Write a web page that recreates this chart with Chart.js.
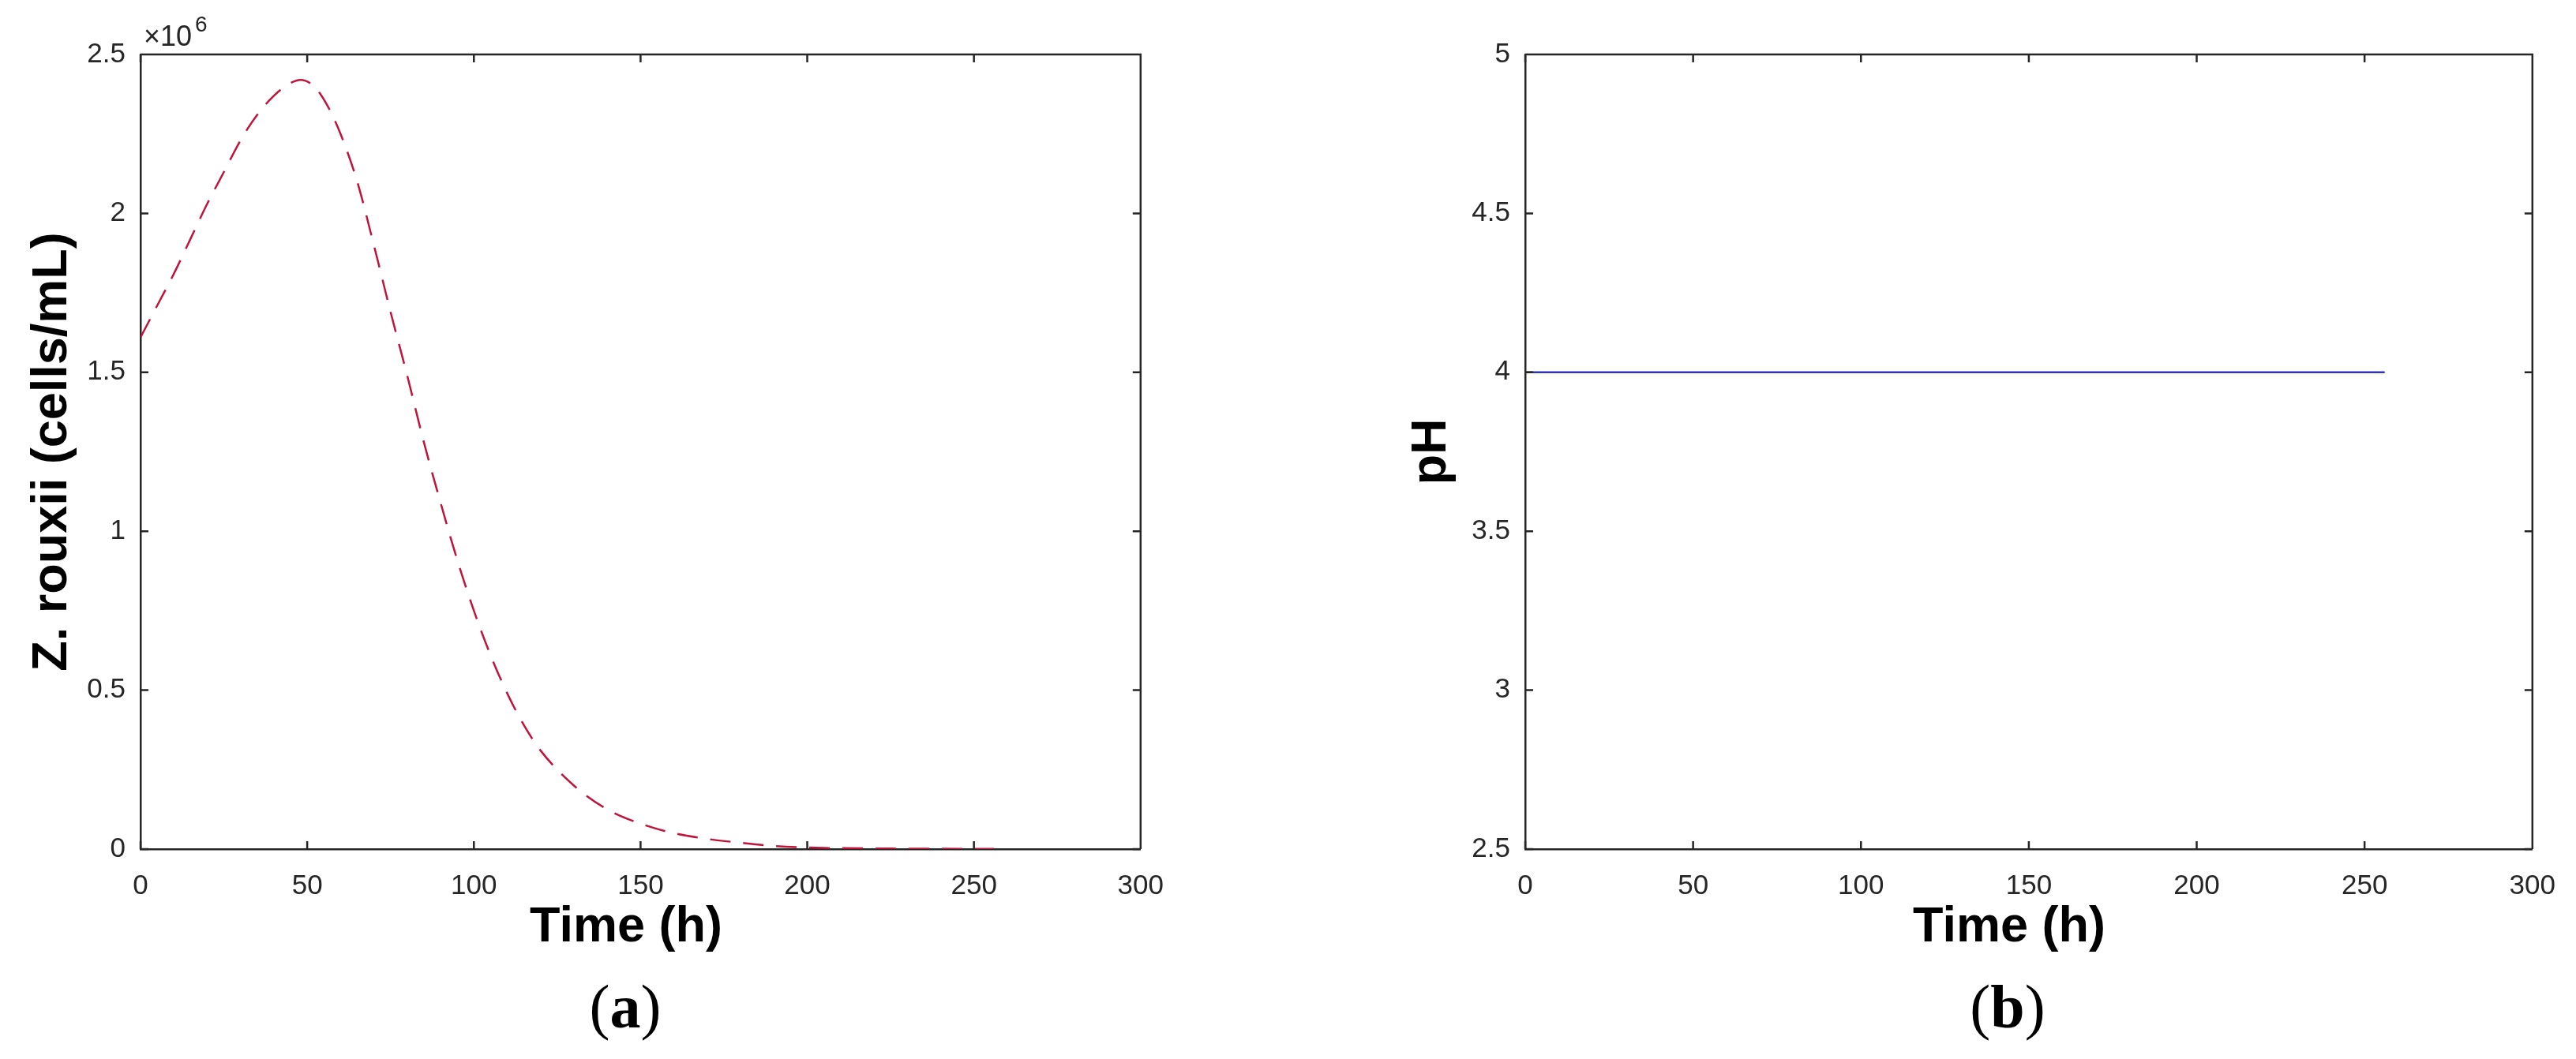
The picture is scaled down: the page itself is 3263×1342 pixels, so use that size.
<!DOCTYPE html>
<html lang="en">
<head>
    <meta charset="UTF-8">
    <title>Z. rouxii and pH vs time</title>
    <script src="https://cdn.jsdelivr.net/npm/chart.js"></script>
    <style>
        body {
            margin: 0;
            background: #ffffff;
            width: 3263px;
            height: 1342px;
            position: relative;
            overflow: hidden;
            font-family: 'Liberation Sans', Arial, sans-serif;
        }
        canvas { position: absolute; top: 0; }
        #chartA { left: 0; }
        #chartB { left: 1750px; }
        .xlabel {
            position: absolute;
            top: 1140px;
            width: 400px;
            text-align: center;
            font-weight: bold;
            font-size: 63px;
            line-height: 63px;
            color: #000;
        }
        .panel {
            position: absolute;
            top: 1237px;
            width: 200px;
            text-align: center;
            font-family: 'Liberation Serif', 'Times New Roman', serif;
            font-size: 78px;
            line-height: 78px;
            color: #000;
        }
    </style>
</head>
<body>
    <canvas id="chartA" width="1500" height="1215"></canvas>
    <canvas id="chartB" width="1513" height="1215"></canvas>
    <div class="xlabel" style="left:593px">Time (h)</div>
    <div class="xlabel" style="left:2345px">Time (h)</div>
    <div class="panel" style="left:692px">(<b>a</b>)</div>
    <div class="panel" style="left:2443px">(<b>b</b>)</div>
    <script>
        // (a) Z. rouxii population, cells/mL
        const timeA = [0, 5, 10, 15, 20, 25, 30, 35, 40, 45, 48, 52, 56, 60, 65, 70, 75, 80, 85, 90,
                       95, 100, 105, 110, 115, 120, 130, 140, 150, 160, 170, 180, 190, 200, 220, 240, 256];
        const zRouxii = [1.61e6, 1.71e6, 1.81e6, 1.92e6, 2.03e6, 2.13e6, 2.23e6, 2.31e6, 2.37e6, 2.41e6,
                         2.42e6, 2.40e6, 2.34e6, 2.25e6, 2.10e6, 1.90e6, 1.69e6, 1.49e6, 1.28e6, 1.09e6,
                         0.91e6, 0.75e6, 0.61e6, 0.49e6, 0.39e6, 0.31e6, 0.20e6, 0.125e6, 0.08e6, 0.05e6,
                         0.032e6, 0.02e6, 0.01e6, 0.005e6, 0.002e6, 0.001e6, 0.0005e6];

        // (b) pH
        const timeB = [0, 256];
        const pH = [4, 4];

        // axis ranges and tick steps
        const xRange = [0, 300];
        const xStep = 50;
        const yRangeA = [0, 2.5e6];
        const yStepA = 0.5e6;
        const yRangeB = [2.5, 5];
        const yStepB = 0.5;

        const axisColor = '#262626';
        const tickFont = { family: "'Liberation Sans', Arial, sans-serif", size: 35 };
        const titleFont = { family: "'Liberation Sans', Arial, sans-serif", size: 63, weight: 'bold' };

        // matlab style box: top/right edges and inward ticks on all sides
        const boxTicks = {
            id: 'boxTicks',
            afterDatasetsDraw(chart) {
                const { ctx, chartArea: a, scales } = chart;
                const len = 10;
                ctx.save();
                ctx.strokeStyle = axisColor;
                ctx.lineWidth = 2.5;
                ctx.beginPath();
                ctx.moveTo(a.left, a.top);
                ctx.lineTo(a.right, a.top);
                ctx.lineTo(a.right, a.bottom);
                scales.x.ticks.forEach(t => {
                    const px = scales.x.getPixelForValue(t.value);
                    ctx.moveTo(px, a.bottom);
                    ctx.lineTo(px, a.bottom - len);
                    ctx.moveTo(px, a.top);
                    ctx.lineTo(px, a.top + len);
                });
                scales.y.ticks.forEach(t => {
                    const py = scales.y.getPixelForValue(t.value);
                    ctx.moveTo(a.left, py);
                    ctx.lineTo(a.left + len, py);
                    ctx.moveTo(a.right, py);
                    ctx.lineTo(a.right - len, py);
                });
                ctx.stroke();
                ctx.restore();
            }
        };

        // the x10^6 exponent above the y axis of (a)
        const exponentLabel = {
            id: 'exponentLabel',
            afterDraw(chart) {
                const { ctx, chartArea: a } = chart;
                ctx.save();
                ctx.fillStyle = axisColor;
                ctx.textBaseline = 'alphabetic';
                ctx.textAlign = 'left';
                ctx.font = "36px 'Liberation Sans', Arial, sans-serif";
                const base = '\u00D710';
                ctx.fillText(base, a.left + 4, a.top - 11);
                const w = ctx.measureText(base).width;
                ctx.font = "28px 'Liberation Sans', Arial, sans-serif";
                ctx.fillText('6', a.left + 8 + w, a.top - 29);
                ctx.restore();
            }
        };

        function makeOptions(yRange, yStep, yTitle, yWidth, titlePad, rightPad, yFormat) {
            return {
                responsive: false,
                animation: false,
                layout: { padding: { top: 69, right: rightPad, left: 0, bottom: 0 } },
                plugins: {
                    legend: { display: false },
                    tooltip: { enabled: false }
                },
                scales: {
                    x: {
                        type: 'linear',
                        min: xRange[0],
                        max: xRange[1],
                        grid: { display: false, drawTicks: false },
                        border: { display: true, color: axisColor, width: 2.5 },
                        ticks: { stepSize: xStep, color: axisColor, font: tickFont, padding: 26, maxRotation: 0 },
                        afterFit(scale) { scale.height = 139; }
                    },
                    y: {
                        min: yRange[0],
                        max: yRange[1],
                        grid: { display: false, drawTicks: false },
                        border: { display: true, color: axisColor, width: 2.5 },
                        ticks: { stepSize: yStep, color: axisColor, font: tickFont, padding: 19, callback: yFormat },
                        title: {
                            display: true,
                            text: yTitle,
                            color: '#000',
                            font: titleFont,
                            padding: { top: titlePad, bottom: 0 }
                        },
                        afterFit(scale) { scale.width = yWidth; }
                    }
                }
            };
        }

        new Chart(document.getElementById('chartA'), {
            type: 'line',
            data: {
                datasets: [{
                    label: 'Z. rouxii',
                    data: timeA.map((t, i) => ({ x: t, y: zRouxii[i] })),
                    borderColor: '#c0143a',
                    borderWidth: 2.5,
                    borderDash: [26, 16],
                    pointRadius: 0,
                    cubicInterpolationMode: 'monotone',
                    fill: false
                }]
            },
            options: makeOptions(yRangeA, yStepA, 'Z. rouxii (cells/mL)', 178, 29, 41, v => v / 1e6),
            plugins: [boxTicks, exponentLabel]
        });

        new Chart(document.getElementById('chartB'), {
            type: 'line',
            data: {
                datasets: [{
                    label: 'pH',
                    data: timeB.map((t, i) => ({ x: t, y: pH[i] })),
                    borderColor: '#3232c0',
                    borderWidth: 2.5,
                    pointRadius: 0,
                    fill: false
                }]
            },
            options: makeOptions(yRangeB, yStepB, 'pH', 182, 26, 55, v => v),
            plugins: [boxTicks]
        });
    </script>
</body>
</html>
